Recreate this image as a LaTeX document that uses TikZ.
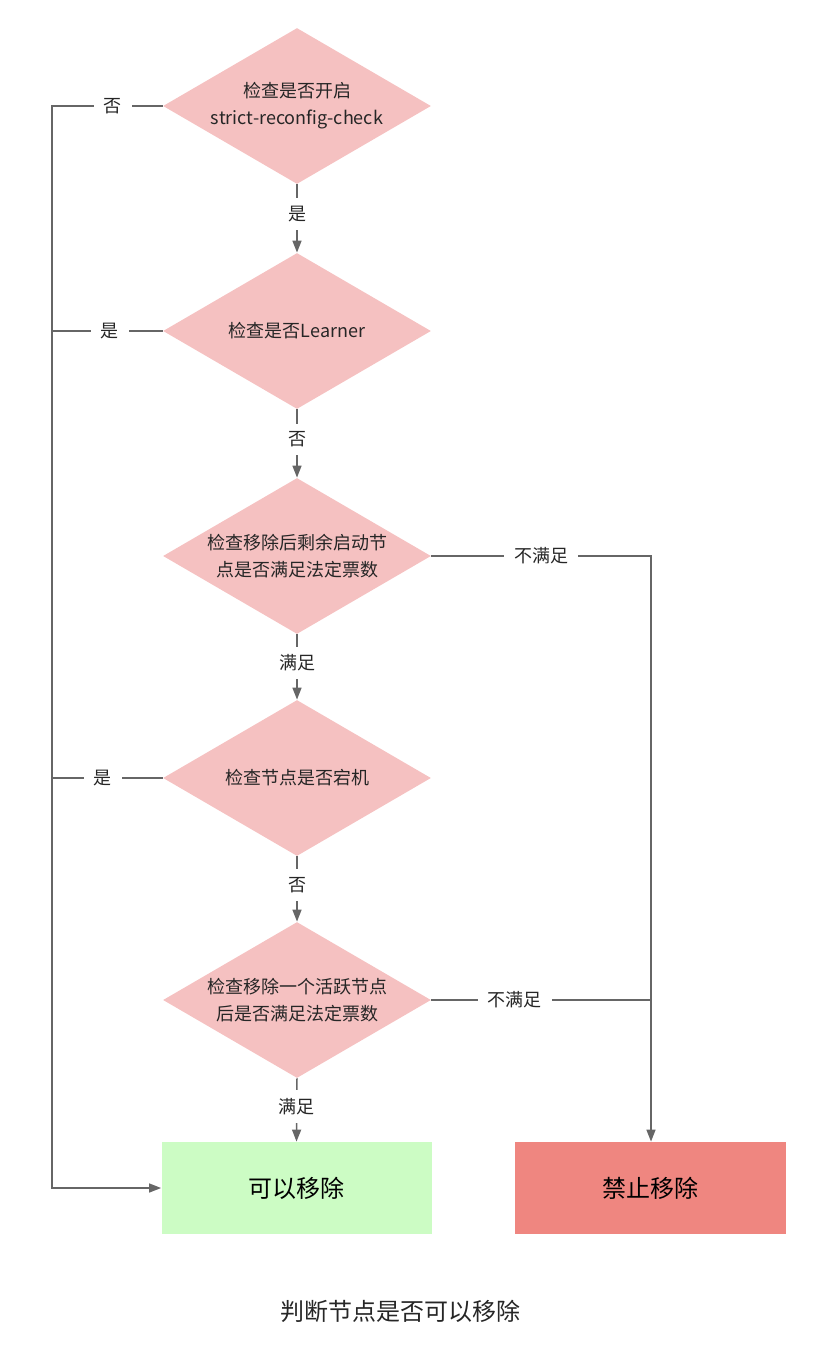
\documentclass[tikz,border=0pt]{standalone}
\usepackage{fontspec}
\setmainfont{Noto Sans CJK SC}
\usetikzlibrary{shapes.geometric,arrows.meta}

\definecolor{decfill}{RGB}{245,193,193}
\definecolor{okfill}{RGB}{204,252,196}
\definecolor{nofill}{RGB}{239,134,128}
\definecolor{linegray}{RGB}{102,102,102}

\tikzset{
    decision/.style={shape=diamond, fill=decfill, inner sep=0pt,
        minimum width=134pt, minimum height=78pt},
    dtext/.style={align=center, text=black!85, font=\fontsize{9}{13.5}\selectfont},
    okbox/.style={rectangle, fill=okfill, minimum width=135pt, minimum height=46pt,
        font=\fontsize{12}{14}\selectfont},
    nobox/.style={rectangle, fill=nofill, minimum width=135.5pt, minimum height=46pt,
        font=\fontsize{12}{14}\selectfont},
    lbl/.style={fill=white, inner xsep=5pt, inner ysep=4pt, text=black!85,
        font=\fontsize{9}{11}\selectfont},
    conn/.style={draw=linegray, line width=0.75pt},
    arr/.style={conn, -{Triangle[width=4.5pt,length=6pt]}},
}

\begin{document}
\begin{tikzpicture}[x=0.5pt, y=-0.5pt]
    % canvas, in pixels of the original
    \useasboundingbox (0,0) rectangle (828,1352);

    % parameters
    \def\cx{297}    % centre line of the checks
    \def\lx{52}     % left trunk
    \def\rx{651}    % right trunk

    % checks
    \node[decision, label={[dtext]center:检查是否开启\\strict-reconfig-check}] (d1) at (\cx,106) {};
    \node[decision, label={[dtext]center:检查是否Learner}] (d2) at (\cx,331) {};
    \node[decision, label={[dtext]center:检查移除后剩余启动节\\点是否满足法定票数}] (d3) at (\cx,556) {};
    \node[decision, label={[dtext]center:检查节点是否宕机}] (d4) at (\cx,778) {};
    \node[decision, label={[dtext]center:检查移除一个活跃节点\\后是否满足法定票数}] (d5) at (\cx,1000) {};

    % outcomes
    \node[okbox] (ok) at (296.5,1188) {可以移除};
    \node[nobox] (no) at (650.5,1188) {禁止移除};

    % trunks
    \coordinate (ltop) at (\lx,106);
    \coordinate (rtop) at (\rx,556);

    % main path downwards
    \foreach \a/\b/\t in {d1/d2/是, d2/d3/否, d3/d4/满足, d4/d5/否, d5/ok/满足}{
        \draw[arr] (\a.south) -- node[lbl, pos=0.44] {\t} (\b.north);
    }

    % left trunk: removal allowed
    \draw[arr] (d1.west) -- node[lbl, pos=0.45] {否} (ltop) |- (ok.west);
    \draw[conn] (d2.west) -- node[lbl, pos=0.48] {是} (d2.west -| ltop);
    \draw[conn] (d4.west) -- node[lbl, pos=0.54] {是} (d4.west -| ltop);

    % right trunk: removal refused
    \draw[arr] (d3.east) -- node[lbl, pos=0.5] {不满足} (rtop) -- (rtop |- no.north);
    \draw[conn] (d5.east) -- node[lbl, pos=0.38] {不满足} (d5.east -| rtop);

    % caption
    \node[font=\fontsize{12}{14}\selectfont, text=black!85] (cap) at (400,1311) {判断节点是否可以移除};
\end{tikzpicture}
\end{document}
